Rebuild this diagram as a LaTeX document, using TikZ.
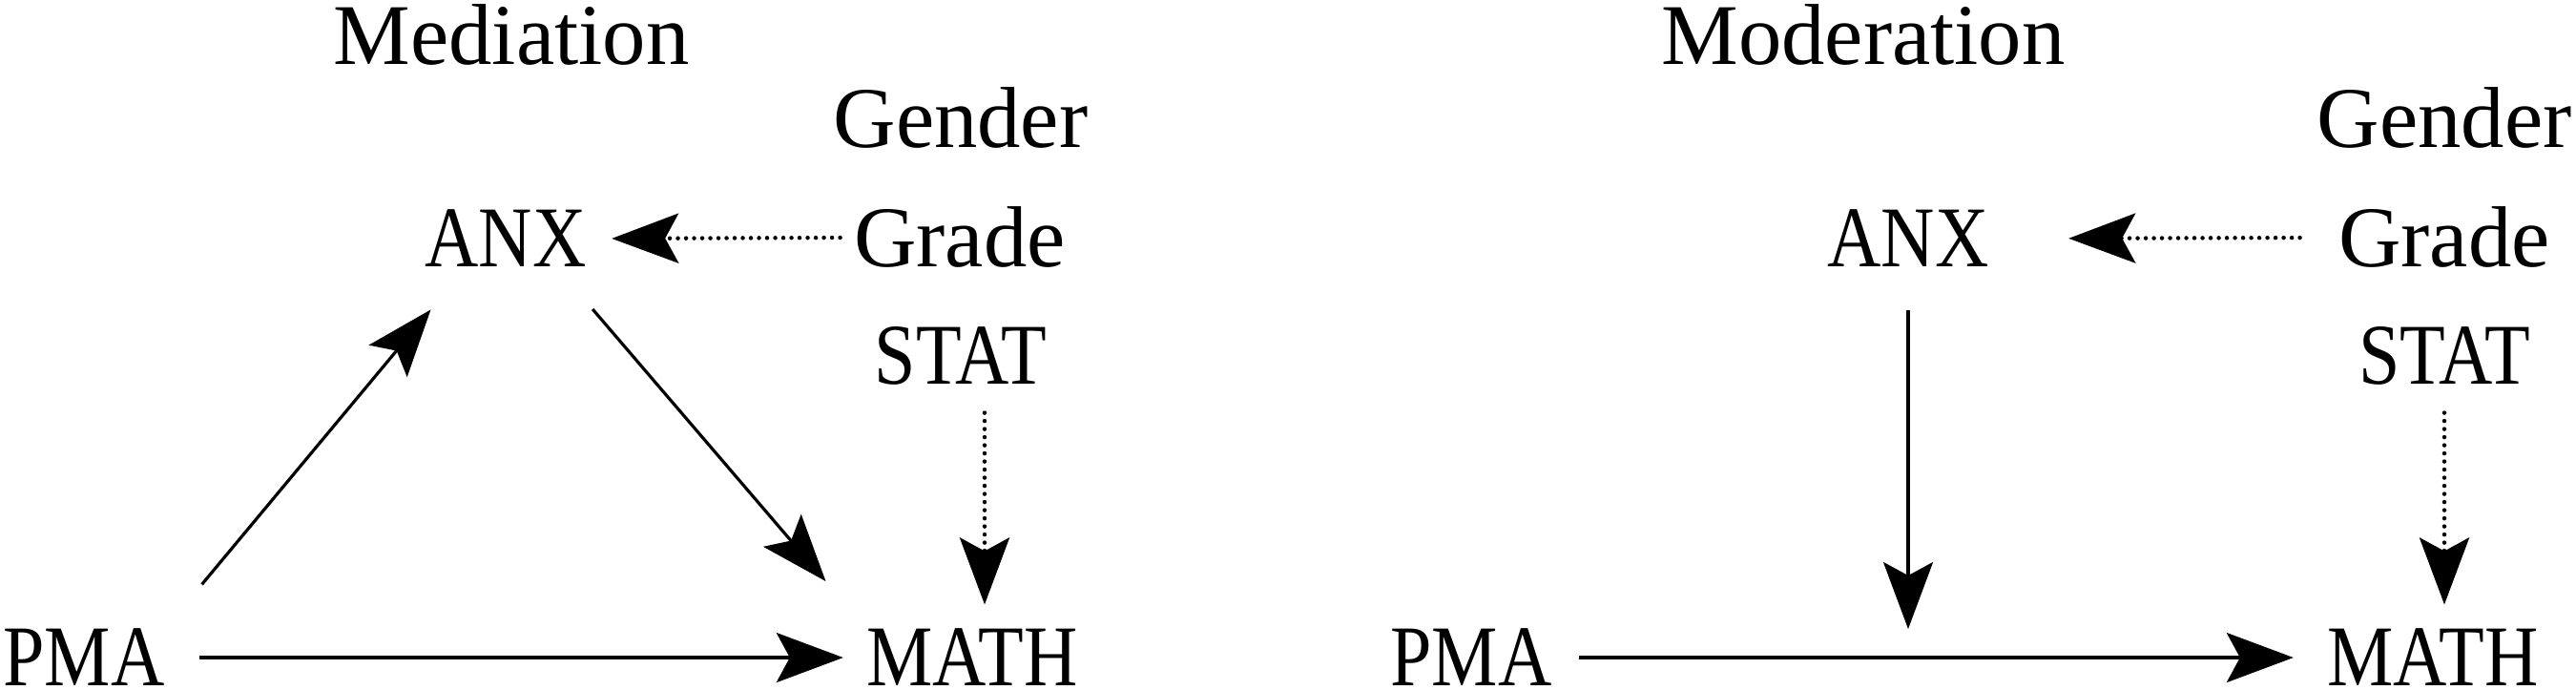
\documentclass[tikz,border=0pt]{standalone}
\usepackage{fontspec}
\setmainfont{Liberation Serif}
\newfontfamily\narrowserif{Liberation Serif}[FakeStretch=0.86]
\usetikzlibrary{arrows.meta}

\begin{document}
\begin{tikzpicture}[x=1cm, y=1cm,
                    >={Stealth[length=0.7cm, width=0.52cm, inset=0.14cm]},
                    every node/.style={inner sep=0pt, anchor=base,
                                       font=\fontsize{25.8}{30}\selectfont},
                    caps/.style={font=\fontsize{25.8}{30}\selectfont\narrowserif},
                    link/.style={line width=0.032cm, ->},
                    dotlink/.style={line width=0.045cm, line cap=round,
                                    dash pattern=on 0pt off 0.085cm, ->}]

  \useasboundingbox (0,0) rectangle (27,7.23);

  %% Mediation
  \node (medtitle) at (5.36,6.55) {Mediation};
  \node (gender) at (10.07,5.68) {Gender};
  \node[caps] (anx) at (5.30,4.43) {ANX};
  \node (grade) at (10.06,4.43) {Grade};
  \node[caps] (stat) at (10.07,3.20) {STAT};
  \node[caps] (pma) at (0.88,0.04) {PMA};
  \node[caps] (math) at (10.19,0.04) {MATH};

  \draw[link, shorten <=0.36cm, shorten >=0.24cm] (pma.east) -- (math.west);
  \draw[link, shorten <=0.6cm, shorten >=0.57cm]
    (pma.north east) -- ([xshift=-0.42cm]anx.south);
  \draw[link, shorten <=0.57cm, shorten >=0.65cm]
    ([xshift=0.54cm]anx.south) -- (math.north west);
  \draw[dotlink, shorten <=0.14cm, shorten >=0.26cm] (grade.west) -- (anx.east);
  \draw[dotlink, shorten <=0.28cm, shorten >=0.25cm]
    ([xshift=0.25cm]stat.south) -- ([xshift=0.25cm]stat.south |- math.north);

  %% Moderation
  \node (modtitle) at (19.53,6.55) {Moderation};
  \node (rgender) at (25.62,5.68) {Gender};
  \node[caps] (ranx) at (20.00,4.43) {ANX};
  \node (rgrade) at (25.62,4.43) {Grade};
  \node[caps] (rstat) at (25.62,3.20) {STAT};
  \node[caps] (rpma) at (15.42,0.04) {PMA};
  \node[caps] (rmath) at (25.50,0.04) {MATH};
  \coordinate (rcross) at (ranx |- rpma);

  \draw[link, shorten <=0.28cm, shorten >=0.35cm] (rpma.east) -- (rmath.west);
  \draw[link, shorten <=0.44cm, shorten >=0.30cm] (ranx.south) -- (rcross);
  \draw[dotlink, shorten <=0.40cm, shorten >=0.83cm] (rgrade.west) -- (ranx.east);
  \draw[dotlink, shorten <=0.28cm, shorten >=0.25cm]
    (rstat.south) -- (rstat.south |- rmath.north);

\end{tikzpicture}
\end{document}
